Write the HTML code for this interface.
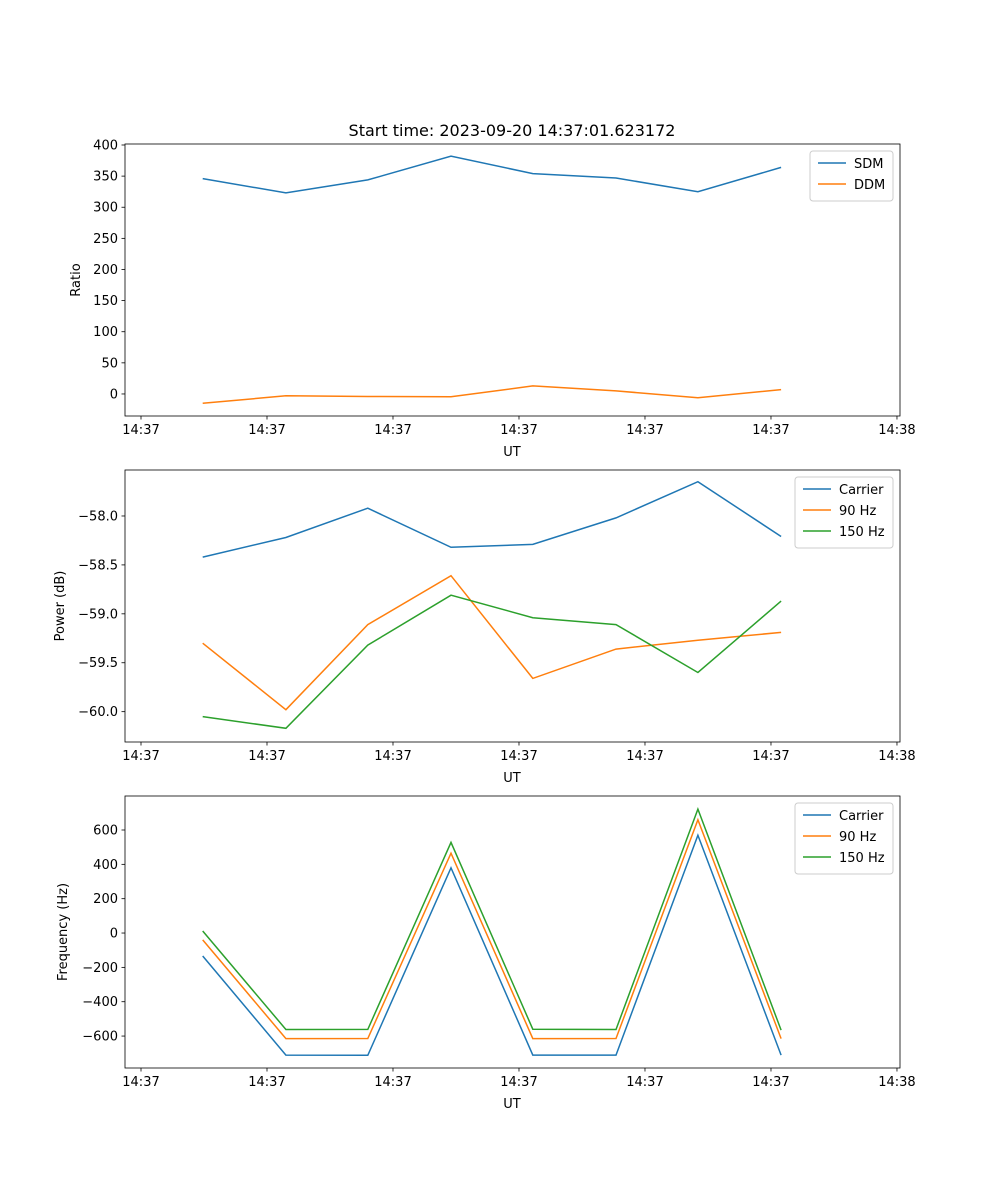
<!DOCTYPE html>
<html><head><meta charset="utf-8"><style>
html,body{margin:0;padding:0;background:#fff;}
svg{display:block;font-family:"DejaVu Sans","Liberation Sans",sans-serif;}
</style></head><body>
<svg id="fig" width="1000" height="1200" viewBox="0 0 1000 1200" xmlns="http://www.w3.org/2000/svg">
<rect width="1000" height="1200" fill="#fff"/>
<text x="512" y="136" font-size="16" text-anchor="middle">Start time: 2023-09-20 14:37:01.623172</text>
</svg>
<script>
const xSec = [4.9, 11.5, 18.0, 24.6, 31.1, 37.7, 44.2, 50.8];
const xTicks = [0, 10, 20, 30, 40, 50, 60];
const xTickLabels = ["14:37","14:37","14:37","14:37","14:37","14:37","14:38"];

const sdm = [346, 323, 344, 382, 354, 347, 325, 364];
const ddm = [-15, -3, -4, -4.5, 13, 5, -6, 7];
const ratioTicks = [0, 50, 100, 150, 200, 250, 300, 350, 400];

const pCarrier = [-58.42, -58.22, -57.92, -58.32, -58.29, -58.02, -57.65, -58.21];
const p90 = [-59.30, -59.98, -59.11, -58.61, -59.66, -59.36, -59.27, -59.19];
const p150 = [-60.05, -60.17, -59.32, -58.81, -59.04, -59.11, -59.60, -58.87];
const powerTicks = [-60.0, -59.5, -59.0, -58.5, -58.0];
const powerTickLabels = ["\u221260.0","\u221259.5","\u221259.0","\u221258.5","\u221258.0"];

const fCarrier = [-134, -711, -712, 380, -711, -711, 570, -711];
const f90 = [-40, -615, -614, 465, -615, -614, 660, -615];
const f150 = [12, -562, -561, 528, -560, -562, 722, -565];
const freqTicks = [-600, -400, -200, 0, 200, 400, 600];

const NS = "http://www.w3.org/2000/svg";
const svg = document.getElementById("fig");
function el(tag, attrs, parent) {
  const e = document.createElementNS(NS, tag);
  for (const k in attrs) e.setAttribute(k, attrs[k]);
  (parent || svg).appendChild(e);
  return e;
}
const X0 = 125, X1 = 900, xMin = -1.27, xMax = 60.24;
const xScale = v => X0 + (v - xMin) / (xMax - xMin) * (X1 - X0);
const C = {blue:"#1f77b4", orange:"#ff7f0e", green:"#2ca02c"};

function panel(name, top, yMin, yMax, yTicks, yLabels, yTitle, series, legend) {
  const bot = top + 272;
  const yScale = v => bot - (v - yMin) / (yMax - yMin) * 272;
  const g = el("g", {});
  
  
  // series
  series.forEach(s => {
    const pts = s.data.map((v, i) => xScale(xSec[i]).toFixed(1) + "," + yScale(v).toFixed(1)).join(" ");
    const pl = el("polyline", {points: pts, fill: "none", stroke: s.color, "stroke-width": 1.5}, g);
    
    
  });
  const fr = el("rect", {x: X0, y: top, width: X1 - X0, height: 272, fill: "none", stroke: "#000", "stroke-width": 0.8}, g);
  
  
  xTicks.forEach((t, i) => {
    const x = xScale(t);
    el("line", {x1: x, x2: x, y1: bot, y2: bot + 3.5, stroke: "#000", "stroke-width": 0.8}, g);
    const tx = el("text", {x: x, y: bot + 18, "font-size": 13, "text-anchor": "middle"}, g);
    tx.textContent = xTickLabels[i];
    
    
  });
  const xt = el("text", {x: 512, y: bot + 40, "font-size": 13, "text-anchor": "middle"}, g);
  xt.textContent = "UT";
  
  
  yTicks.forEach((t, i) => {
    const y = yScale(t);
    el("line", {x1: X0 - 3.5, x2: X0, y1: y, y2: y, stroke: "#000", "stroke-width": 0.8}, g);
    const tx = el("text", {x: X0 - 7, y: y + 4.5, "font-size": 13, "text-anchor": "end"}, g);
    tx.textContent = yLabels[i];
    
    
  });
  const yt = el("text", {x: 0, y: 0, "font-size": 13, "text-anchor": "middle", transform: `translate(${legend.ytx},${top + 136}) rotate(-90)`}, g);
  yt.textContent = yTitle;
  
  
  // legend
  const lg = el("g", {}, g);
  
  
  el("rect", {x: legend.x, y: top + 7, width: legend.w, height: 8 + series.length * 21, rx: 3, fill: "#fff", "fill-opacity": 0.8, stroke: "#ccc", "stroke-width": 1}, lg);
  series.forEach((s, i) => {
    const y = top + 19 + i * 21;
    el("line", {x1: legend.x + 8, x2: legend.x + 36, y1: y, y2: y, stroke: s.color, "stroke-width": 1.5}, lg);
    const tx = el("text", {x: legend.x + 44, y: y + 5, "font-size": 13}, lg);
    tx.textContent = s.label;
    
    
  });
}

panel("ratio", 144, -35.4, 401.6, ratioTicks, ratioTicks.map(String), "Ratio",
  [{key:"sdm", label:"SDM", color:C.blue, data:sdm}, {key:"ddm", label:"DDM", color:C.orange, data:ddm}],
  {x: 810, w: 83, ytx: 80});
panel("power", 470, -60.31, -57.53, powerTicks, powerTickLabels, "Power (dB)",
  [{key:"carrier", label:"Carrier", color:C.blue, data:pCarrier}, {key:"90hz", label:"90 Hz", color:C.orange, data:p90}, {key:"150hz", label:"150 Hz", color:C.green, data:p150}],
  {x: 795, w: 98, ytx: 64});
panel("frequency", 796, -786, 798, freqTicks, freqTicks.map(v => v < 0 ? "\u2212" + (-v) : String(v)), "Frequency (Hz)",
  [{key:"carrier", label:"Carrier", color:C.blue, data:fCarrier}, {key:"90hz", label:"90 Hz", color:C.orange, data:f90}, {key:"150hz", label:"150 Hz", color:C.green, data:f150}],
  {x: 795, w: 98, ytx: 67});
</script>
</body></html>
